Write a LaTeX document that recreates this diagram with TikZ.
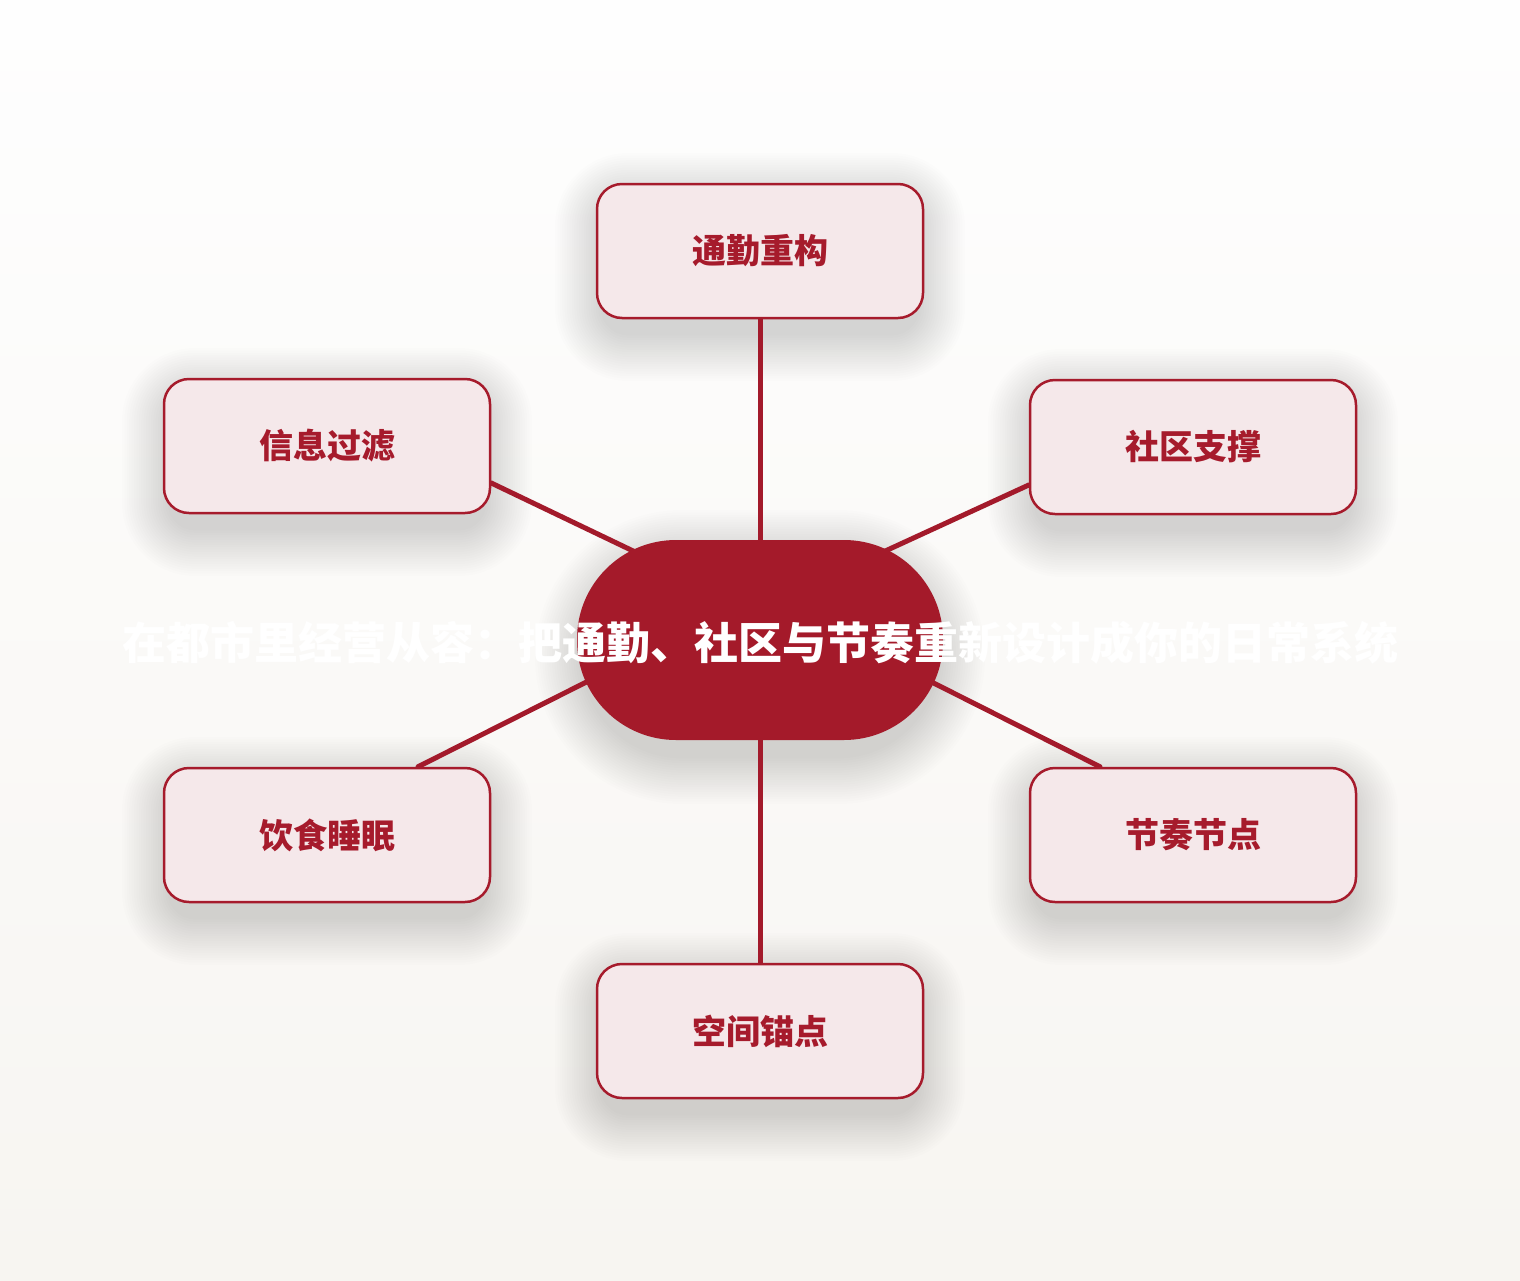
\documentclass[tikz,border=0pt]{standalone}
\usepackage{fontspec}
\newfontfamily\cjk{Noto Sans CJK SC}
\usetikzlibrary{calc}
\definecolor{bgtop}{HTML}{FEFEFE}
\definecolor{bgbot}{HTML}{F7F5F1}
\definecolor{rred}{HTML}{A61B2C}
\definecolor{hubred}{HTML}{A41A2A}
\definecolor{boxfill}{HTML}{F5E8EA}
\definecolor{linkred}{HTML}{A31A2B}
\pgfdeclarelayer{bg}
\pgfdeclarelayer{shadow}
\pgfdeclarelayer{links}
\pgfsetlayers{bg,shadow,links,main}
\newcommand\softshadow[5]{%
  \foreach \k in {1,...,20}{%
    \pgfmathsetmacro\ex{\k*2.4}%
    \pgfmathsetmacro\rr{#5+\k*2.4}%
    \fill[black,opacity=0.0075,rounded corners=\rr pt]
      ({#1-#3/2-\ex+6},{#2-#4/2-\ex+18}) rectangle ({#1+#3/2+\ex-6},{#2+#4/2+\ex+16});
  }}
\begin{document}
\begin{tikzpicture}[x=1pt,y=-1pt,
  leaf/.style={draw=rred, line width=2.5pt, fill=boxfill, rounded corners=25pt,
    minimum width=326pt, minimum height=134pt, inner sep=0pt, text=rred,
    font=\cjk\bfseries\fontsize{34}{40}\selectfont},
  hub/.style={fill=hubred, rounded corners=99pt, minimum width=366pt,
    minimum height=200pt, inner sep=0pt},
  link/.style={draw=linkred, line width=5pt, line cap=round},
  title/.style={text=white, inner sep=0pt,
    font=\cjk\bfseries\fontsize{44}{50}\selectfont}]
\useasboundingbox (0,0) rectangle (1520,1280);
\begin{pgfonlayer}{bg}
  \shade[top color=bgtop, bottom color=bgbot] (0,0) rectangle (1520,1280);
\end{pgfonlayer}
\begin{pgfonlayer}{shadow}
  \softshadow{760}{250}{326}{134}{25}
  \softshadow{327}{445}{326}{134}{25}
  \softshadow{1193}{446}{326}{134}{25}
  \softshadow{327}{834}{326}{134}{25}
  \softshadow{1193}{834}{326}{134}{25}
  \softshadow{760}{1030}{326}{134}{25}
  \softshadow{760}{640}{366}{200}{99}
\end{pgfonlayer}
\node[leaf] (top) at (760,251) {通勤重构};
\node[leaf] (tl) at (327,446) {信息过滤};
\node[leaf] (tr) at (1193,447) {社区支撑};
\node[leaf] (bl) at (327,835) {饮食睡眠};
\node[leaf] (br) at (1193,835) {节奏节点};
\node[leaf] (bot) at (760,1031) {空间锚点};
\node[hub] (hub) at (760,640) {};
\node[title] (ttl) at ($(hub.center)+(0,3)$) {在都市里经营从容：把通勤、社区与节奏重新设计成你的日常系统};
\coordinate (h1) at (700,583);
\coordinate (h2) at (820,581);
\coordinate (h3) at (660,645);
\coordinate (h4) at (860,646);
\begin{pgfonlayer}{links}
  \draw[link] (top.south) -- (hub.north);
  \draw[link] (hub.south) -- (bot.north);
  \draw[link] ($(tl.east)+(0,37)$) -- (h1);
  \draw[link] ($(tr.west)+(0,38)$) -- (h2);
  \draw[link] ($(bl.north)+(91,0)$) -- (h3);
  \draw[link] ($(br.north)+(-93,0)$) -- (h4);
\end{pgfonlayer}
\end{tikzpicture}
\end{document}
